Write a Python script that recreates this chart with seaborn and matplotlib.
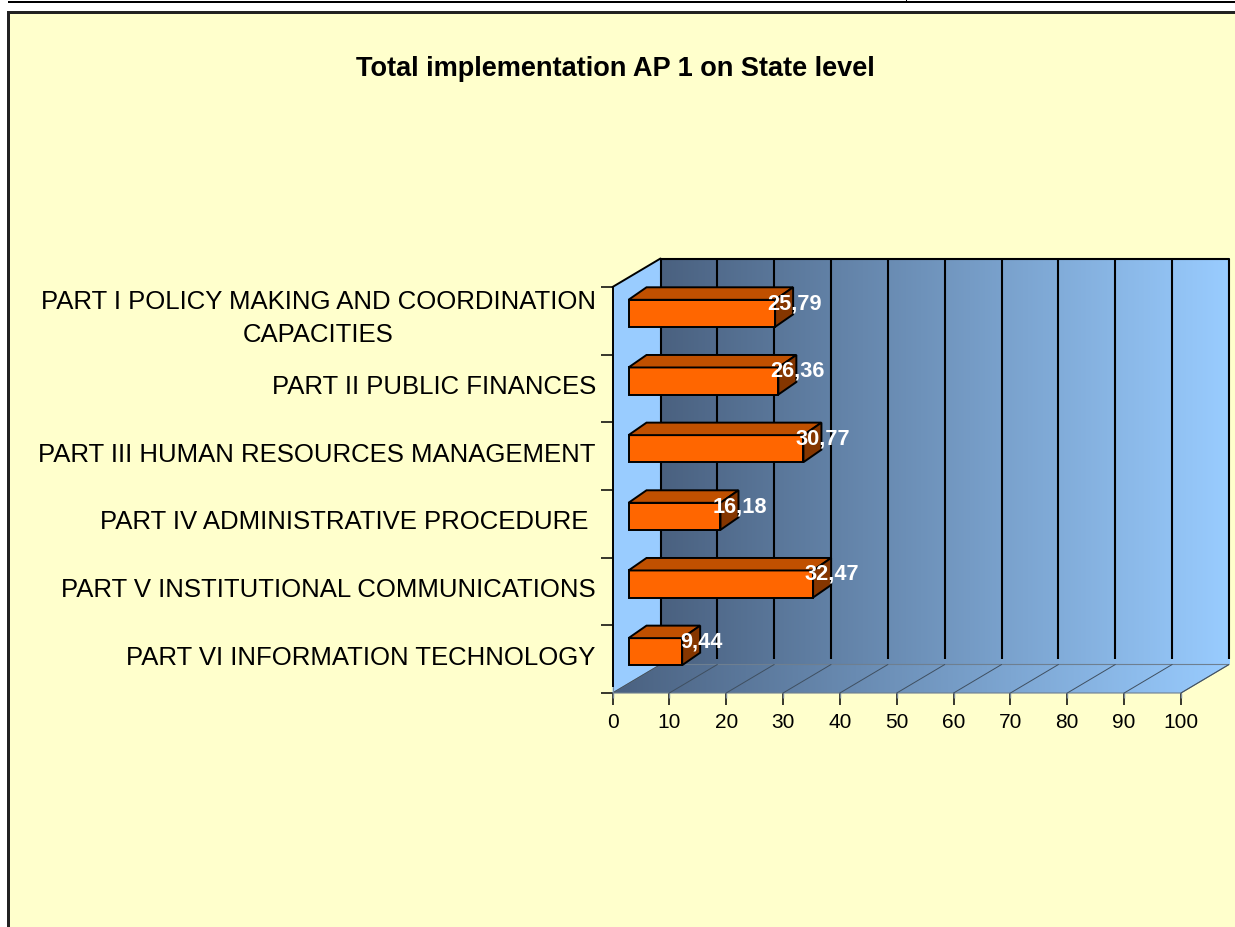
import matplotlib
matplotlib.use('Agg')
import numpy as np
import pandas as pd
import matplotlib.pyplot as plt
import seaborn as sns
from matplotlib.colors import LinearSegmentedColormap
from matplotlib.patches import Polygon, Rectangle
from matplotlib.ticker import FixedLocator
from matplotlib.transforms import ScaledTranslation

partes = [
    'PART I POLICY MAKING AND COORDINATION\nCAPACITIES',
    'PART II PUBLIC FINANCES',
    'PART III HUMAN RESOURCES MANAGEMENT',
    'PART IV ADMINISTRATIVE PROCEDURE ',
    'PART V INSTITUTIONAL COMMUNICATIONS',
    'PART VI INFORMATION TECHNOLOGY',
]
valores = [25.79, 26.36, 30.77, 16.18, 32.47, 9.44]
ticks_x = [0, 10, 20, 30, 40, 50, 60, 70, 80, 90, 100]
titulo = 'Total implementation AP 1 on State level'

W, H = 1235, 927
# pixel box of the front plane of the fake 3D chart
X0, X1, Y0, Y1 = 612.5, 1181.0, 693.0, 287.0
PX_X = (X1 - X0) / 100
PX_Y = (Y0 - Y1) / 6

# depth offsets, in data units
WALL_DX = 48 / PX_X
WALL_DY = 28.5 / PX_Y
INSET_DX = 16 / PX_X
INSET_DY = 7.5 / PX_Y
BAR_DX = 18 / PX_X
BAR_DY = 12.5 / PX_Y

sns.set_theme(style='white')
plt.rcParams['font.family'] = ['Liberation Sans', 'DejaVu Sans']

fig = plt.figure(figsize=(W / 100, H / 100), dpi=100, facecolor='white')

# outer frame of the sheet
def caixa(x, y, w, h, cor):
    fig.add_artist(Rectangle((x / W, 1 - (y + h) / H), w / W, h / H, transform=fig.transFigure,
                             facecolor=cor, edgecolor='none', zorder=-5))

caixa(8, 12, W - 8, H - 12, '#FFFFCC')
caixa(7, 11, W - 7, 2.5, '#222222')
caixa(7, 11, 2.5, H - 11, '#222222')
caixa(8, 0.5, W - 8, 2.2, 'black')
caixa(905.5, 0, 1.6, 1, 'black')

ax = fig.add_axes([X0 / W, 1 - Y0 / H, (X1 - X0) / W, (Y0 - Y1) / H])
ax.patch.set_visible(False)

df = pd.DataFrame({'parte': partes, 'valor': valores})
sns.barplot(data=df, x='valor', y='parte', orient='h', width=0.4, color='#FF6600', saturation=1,
            edgecolor='black', linewidth=1.4, ax=ax, zorder=4)

baixo, topo = 5.5, -0.5
gradiente = np.linspace(0, 1, 256).reshape(1, -1)
cmap = LinearSegmentedColormap.from_list('parede', ['#4A6180', '#99CCFF'])

# back wall
parede = ax.imshow(gradiente, extent=(WALL_DX, 100 + WALL_DX, baixo - WALL_DY, topo - WALL_DY),
                   cmap=cmap, aspect='auto', zorder=0)
parede.set_clip_on(False)

# floor, same gradient clipped to a parallelogram
chao_pts = [(0, baixo), (100, baixo), (100 + WALL_DX, baixo - WALL_DY), (WALL_DX, baixo - WALL_DY)]
chao_poly = Polygon(chao_pts, closed=True, facecolor='none', edgecolor='#6E7F90', linewidth=0.8,
                    zorder=1, clip_on=False)
ax.add_patch(chao_poly)
chao = ax.imshow(gradiente, extent=(0, 100 + WALL_DX, baixo, baixo - WALL_DY),
                 cmap=cmap, aspect='auto', zorder=0.5)
chao.set_clip_box(fig.bbox)
chao.set_clip_path(chao_poly)

# left wall
ax.add_patch(Polygon([(0, topo), (WALL_DX, topo - WALL_DY), (WALL_DX, baixo - WALL_DY), (0, baixo)],
                     closed=True, facecolor='#99CCFF', edgecolor='none', zorder=0.7, clip_on=False))

# grid on the wall and on the floor
fim_preto = baixo - WALL_DY - 6 / PX_Y
for t in ticks_x:
    ax.plot([t + WALL_DX, t + WALL_DX], [topo - WALL_DY, fim_preto], color='black', lw=1.5,
            solid_capstyle='butt', zorder=2, clip_on=False)
    ax.plot([t, t + WALL_DX], [baixo, baixo - WALL_DY], color='#3F4F60', lw=0.7, zorder=1.5, clip_on=False)
    # the first bit of each x tick is grey
    ax.plot([t, t], [baixo, baixo + 5 / PX_Y], color='#7A8A9A', lw=1.0, solid_capstyle='butt', zorder=5, clip_on=False)
ax.plot([WALL_DX, 100 + WALL_DX], [topo - WALL_DY, topo - WALL_DY], color='black', lw=1.5, zorder=2, clip_on=False)
ax.plot([0, WALL_DX], [topo, topo - WALL_DY], color='black', lw=1.4, zorder=2, clip_on=False)
ax.plot([0, 0], [topo, fim_preto + WALL_DY], color='black', lw=1.4, solid_capstyle='butt', zorder=2, clip_on=False)
ax.plot([0, 0], [fim_preto + WALL_DY, baixo], color='#7A8A9A', lw=0.8, zorder=2, clip_on=False)

# bars: seaborn draws the front face, top and side come from its geometry
for barra, valor in zip(ax.containers[0], valores):
    barra.set_x(INSET_DX)
    barra.set_y(barra.get_y() - INSET_DY)
    barra.set_clip_on(False)
    esq = barra.get_x()
    dir_ = esq + barra.get_width()
    cima = barra.get_y()
    base = cima + barra.get_height()
    ax.add_patch(Polygon([(esq, cima), (dir_, cima), (dir_ + BAR_DX, cima - BAR_DY), (esq + BAR_DX, cima - BAR_DY)],
                         closed=True, facecolor='#C05000', edgecolor='black', linewidth=1.4, zorder=4, clip_on=False))
    ax.add_patch(Polygon([(dir_, cima), (dir_ + BAR_DX, cima - BAR_DY), (dir_ + BAR_DX, base - BAR_DY), (dir_, base)],
                         closed=True, facecolor='#853600', edgecolor='black', linewidth=1.4, zorder=4, clip_on=False))
    ax.annotate(f'{valor:.2f}'.replace('.', ','), xy=(dir_, cima), xytext=(19, -4), textcoords='offset pixels',
                ha='center', va='center', color='white', fontsize=15.7, fontweight='bold', zorder=6,
                annotation_clip=False)

ax.set_xlim(0, 100)
ax.set_ylim(baixo, topo)
ax.set_xlabel('')
ax.set_ylabel('')
sns.despine(ax=ax, left=True, bottom=True)

ax.set_xticks(ticks_x)
ax.tick_params(axis='x', length=8.6, width=1.1, color='black', labelsize=15, pad=6, labelcolor='black', bottom=True)
ax.yaxis.set_minor_locator(FixedLocator(np.arange(-0.5, 6)))
ax.tick_params(axis='y', which='major', length=0, pad=12, labelsize=18.5, labelcolor='black', left=False)
ax.tick_params(axis='y', which='minor', length=8.6, width=1.1, color='black', left=True)

# labels sit a little above the band centre
for rotulo in ax.get_yticklabels():
    duas_linhas = '\n' in rotulo.get_text()
    sobe = ScaledTranslation(0, (9.5 if duas_linhas else 4) / 100, fig.dpi_scale_trans)
    rotulo.set_transform(rotulo.get_transform() + sobe)
    rotulo.set_multialignment('center')
    rotulo.set_linespacing(1.46)

fig.text(615.5 / W, 1 - 69 / H, titulo, ha='center', va='center', fontsize=19.5, fontweight='bold', color='black')

fig.savefig('out.png', dpi=100)
